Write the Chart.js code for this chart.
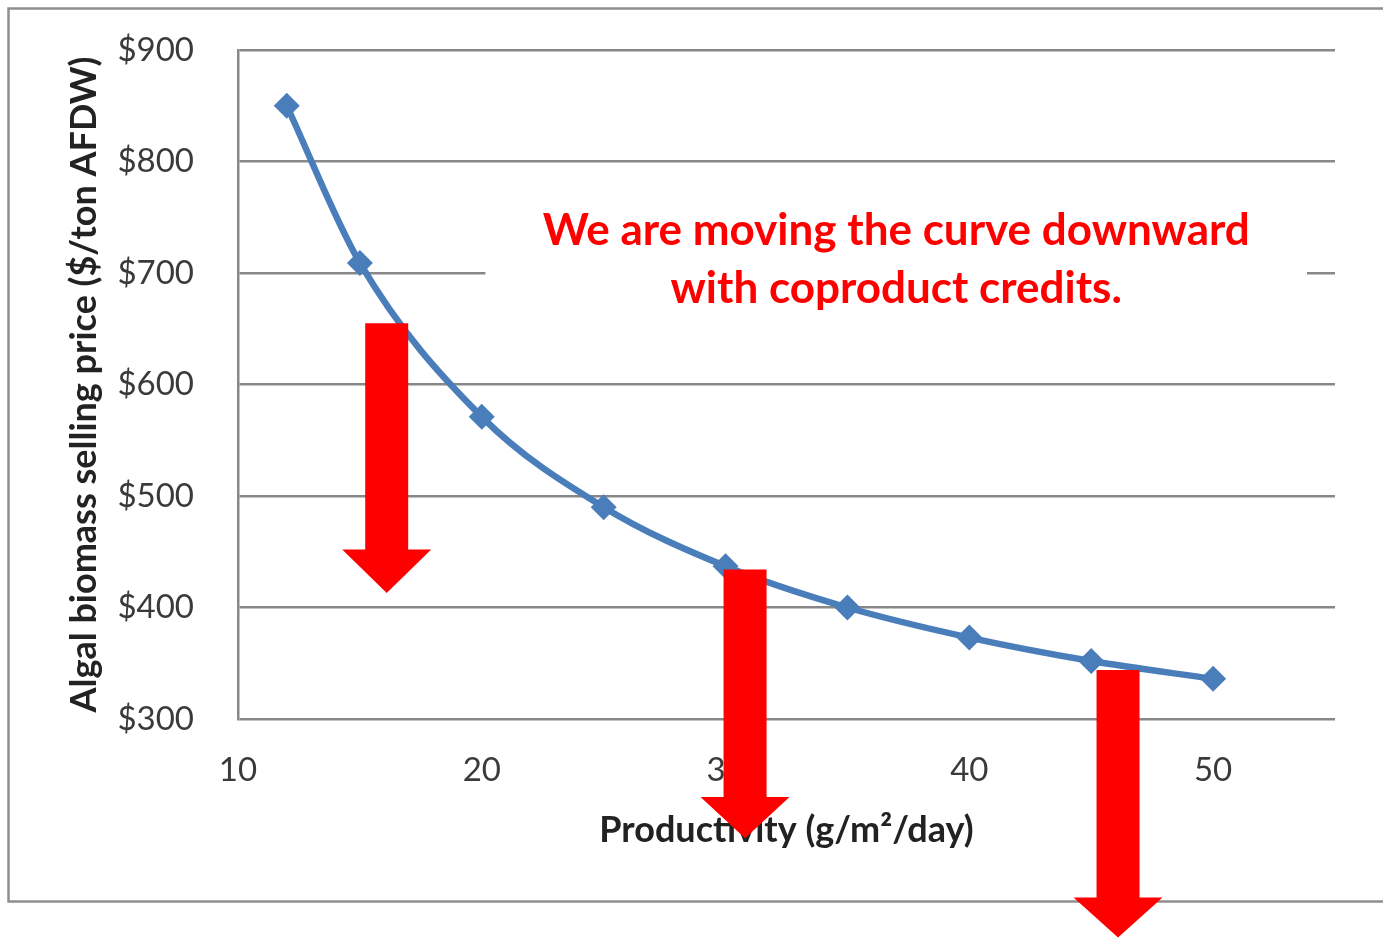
<!DOCTYPE html>
<html>
<head>
<meta charset="utf-8">
<script src="https://cdn.jsdelivr.net/npm/chart.js@4.4.1/dist/chart.umd.min.js"></script>
<style>
  html, body { margin: 0; padding: 0; background: #fff; }
  #wrap { width: 1383px; height: 939px; }
</style>
</head>
<body>
<div id="wrap"><canvas id="myChart"></canvas></div>
<script>
// productivity (g/m2/day) and selling price ($/ton AFDW)
var productivity = [12, 15, 20, 25, 30, 35, 40, 45, 50];
var sellingPrice = [850, 709, 571, 490, 437, 400, 373, 352, 336];
var xTicks = [10, 20, 30, 40, 50];
var yTicks = [300, 400, 500, 600, 700, 800, 900];

// red arrows (data coords): x, top of shaft, start of head, tip
var arrowX = [16.1, 30.8, 46.1];
var arrowTop = [655, 434, 344];
var arrowHead = [452, 230, 140];
var arrowTip = [413, 193, 104];

var noteLines = ["We are moving the curve downward", "with coproduct credits."];

var points = [];
for (var i = 0; i < productivity.length; i++) {
    points.push({x: productivity[i], y: sellingPrice[i]});
}

var fontFam = "Lato, 'Open Sans', sans-serif";

var extras = {
    id: 'extras',
    beforeDraw: function(chart) {
        var ctx = chart.ctx;
        ctx.save();
        ctx.fillStyle = '#fff';
        ctx.fillRect(0, 0, chart.width, chart.height);
        ctx.strokeStyle = '#8f8f8f';
        ctx.lineWidth = 2.5;
        ctx.strokeRect(8.5, 8.5, chart.width + 20, 893);
        ctx.restore();
    },
    afterDraw: function(chart) {
        var ctx = chart.ctx;
        var xs = chart.scales.x, ys = chart.scales.y;
        ctx.save();
        // note box
        var bx1 = xs.getPixelForValue(20.15), bx2 = xs.getPixelForValue(53.85);
        var by1 = ys.getPixelForValue(775), by2 = ys.getPixelForValue(653);
        ctx.fillStyle = '#fff';
        ctx.fillRect(bx1, by1, bx2 - bx1, by2 - by1);
        ctx.fillStyle = '#ff0000';
        ctx.font = "bold 44px " + fontFam;
        ctx.textAlign = 'center';
        ctx.textBaseline = 'middle';
        var cx = xs.getPixelForValue(37.0);
        ctx.fillText(noteLines[0], cx, ys.getPixelForValue(738));
        ctx.fillText(noteLines[1], cx, ys.getPixelForValue(686));
        // arrows
        for (var i = 0; i < arrowX.length; i++) {
            var ax = xs.getPixelForValue(arrowX[i]);
            var t = ys.getPixelForValue(arrowTop[i]);
            var h = ys.getPixelForValue(arrowHead[i]);
            var tip = ys.getPixelForValue(arrowTip[i]);
            ctx.beginPath();
            ctx.moveTo(ax - 21.5, t);
            ctx.lineTo(ax + 21.5, t);
            ctx.lineTo(ax + 21.5, h);
            ctx.lineTo(ax + 44.5, h);
            ctx.lineTo(ax, tip);
            ctx.lineTo(ax - 44.5, h);
            ctx.lineTo(ax - 21.5, h);
            ctx.closePath();
            ctx.fill();
        }
        ctx.restore();
    }
};

var ctx = document.getElementById("myChart");
var myChart = new Chart(ctx, {
    type: 'line',
    data: {
        datasets: [{
            data: points,
            borderColor: '#4a7ebb',
            backgroundColor: '#4a7ebb',
            borderWidth: 6.5,
            cubicInterpolationMode: 'monotone',
            pointStyle: 'rectRot',
            pointRadius: 13,
            pointBorderWidth: 0,
            clip: false
        }]
    },
    options: {
        responsive: true,
        maintainAspectRatio: false,
        animation: false,
        events: [],
        layout: {padding: {left: 63, top: 50, right: 48, bottom: 87}},
        plugins: {legend: {display: false}, tooltip: {enabled: false}},
        scales: {
            x: {
                type: 'linear',
                min: 10,
                max: 55,
                afterBuildTicks: function(scale) {
                    scale.ticks = xTicks.map(function(v) { return {value: v}; });
                },
                afterFit: function(scale) {
                    scale.height = 133;
                    scale.paddingLeft = 0;
                    scale.paddingRight = 0;
                },
                grid: {display: false, drawTicks: false},
                border: {display: false},
                ticks: {
                    padding: 32,
                    color: '#3a3a3a',
                    font: {family: fontFam, size: 33},
                    maxRotation: 0
                },
                title: {
                    display: true,
                    text: 'Productivity (g/m\u00B2/day)',
                    color: '#222',
                    padding: 0,
                    font: {family: fontFam, size: 36, weight: 'bold'}
                }
            },
            y: {
                min: 300,
                max: 900,
                afterBuildTicks: function(scale) {
                    scale.ticks = yTicks.map(function(v) { return {value: v}; });
                },
                afterFit: function(scale) {
                    scale.width = 238 - 63;
                    scale.paddingTop = 0;
                    scale.paddingBottom = 0;
                },
                grid: {color: '#888', lineWidth: 2.5, drawTicks: false},
                border: {display: true, color: '#888', width: 2.5},
                ticks: {
                    padding: 44,
                    color: '#3a3a3a',
                    font: {family: fontFam, size: 33},
                    callback: function(v) { return '$' + v; }
                },
                title: {
                    display: true,
                    text: 'Algal biomass selling price ($/ton AFDW)',
                    color: '#222',
                    padding: 0,
                    font: {family: fontFam, size: 36, weight: 'bold'}
                }
            }
        }
    },
    plugins: [extras]
});
</script>
</body>
</html>
